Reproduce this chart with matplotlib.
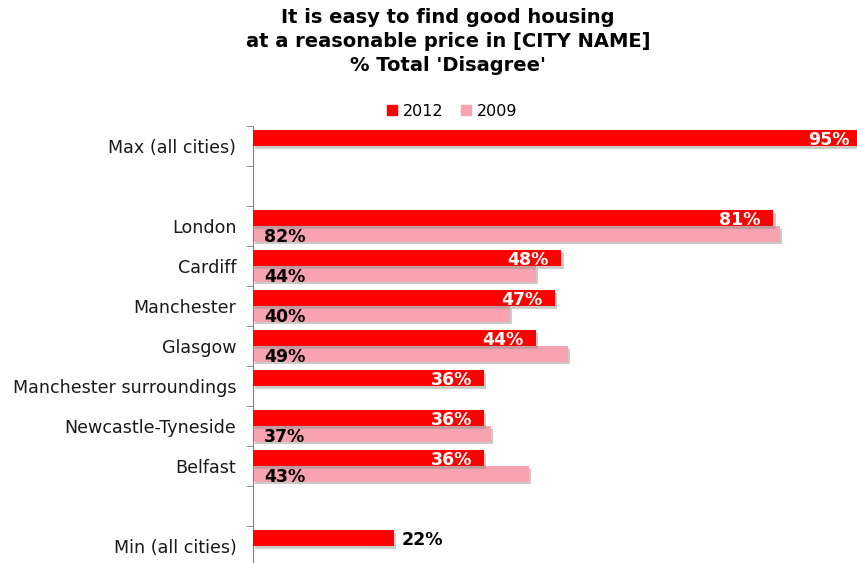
import numpy as np
import matplotlib.pyplot as plt
import matplotlib.patheffects as pe

# survey results, % total 'Disagree' (None = no value for that row)
categories = ["Max (all cities)", "", "London", "Cardiff", "Manchester", "Glasgow",
              "Manchester surroundings", "Newcastle-Tyneside", "Belfast", "", "Min (all cities)"]
values_2012 = [95, None, 81, 48, 47, 44, 36, 36, 36, None, 22]
values_2009 = [None, None, 82, 44, 40, 49, None, 37, 43, None, None]
series_names = ["2012", "2009"]

red = "#FF0000"
pink = "#F9A3B0"
shadow = [pe.SimplePatchShadow(offset=(1.5, -2), shadow_rgbFace="#8c8c8c", alpha=0.45), pe.Normal()]
lbl_size = 12.5

fig = plt.figure(figsize=(8.57, 5.63), dpi=100)
ax = fig.add_axes([253 / 857, 1 - 566 / 563, 1 - 253 / 857, 440 / 563])

pos = np.arange(len(categories))
bh = 0.39

for i, (v12, v09) in enumerate(zip(values_2012, values_2009)):
    if v12 is not None:
        b = ax.barh(pos[i] - bh, v12, height=bh, align="edge", color=red, zorder=3)
        b[0].set_path_effects(shadow)
        if categories[i].startswith("Min"):
            ax.annotate(f"{v12}%", (v12, pos[i] - bh / 2), xytext=(5, -1.5), textcoords="offset points",
                        ha="left", va="center", fontsize=lbl_size, fontweight="bold", color="black")
        else:
            ax.annotate(f"{v12}%", (min(v12, 94), pos[i] - bh / 2), xytext=(-5 if v12 > 94 else -9, -1.5),
                        textcoords="offset points", ha="right", va="center",
                        fontsize=lbl_size, fontweight="bold", color="white", zorder=5)
    if v09 is not None:
        b = ax.barh(pos[i], v09, height=bh, align="edge", color=pink, zorder=2)
        b[0].set_path_effects(shadow)
        ax.annotate(f"{v09}%", (0, pos[i] + bh / 2), xytext=(8, -2), textcoords="offset points",
                    ha="left", va="center", fontsize=lbl_size, fontweight="bold", color="black", zorder=5)

ax.set_xlim(0, 94)
ax.set_ylim(len(categories) - 0.5, -0.5)

ax.set_yticks(pos)
ax.set_yticklabels(categories, fontsize=12.6, color="#1a1a1a")
ax.tick_params(axis="y", which="major", length=0, pad=12)
ax.set_yticks(np.arange(len(categories) + 1) - 0.5, minor=True)
ax.tick_params(axis="y", which="minor", length=5, color="#808080", direction="out")
ax.set_xticks([])

for side in ["top", "right", "bottom"]:
    ax.spines[side].set_visible(False)
ax.spines["left"].set_color("#808080")

fig.text(0.523, 1 - 8 / 563, "It is easy to find good housing\nat a reasonable price in [CITY NAME]\n% Total 'Disagree'",
         ha="center", va="top", fontsize=14, fontweight="bold", linespacing=1.33)

handles = [plt.Rectangle((0, 0), 1, 1, color=red), plt.Rectangle((0, 0), 1, 1, color=pink)]
fig.legend(handles, series_names, loc="center", bbox_to_anchor=(452 / 857, 1 - 111 / 563), ncol=2,
           frameon=False, fontsize=11.5, handlelength=0.65, handleheight=0.65, handletextpad=0.35,
           columnspacing=1.1)

fig.savefig("out.png", dpi=100)
